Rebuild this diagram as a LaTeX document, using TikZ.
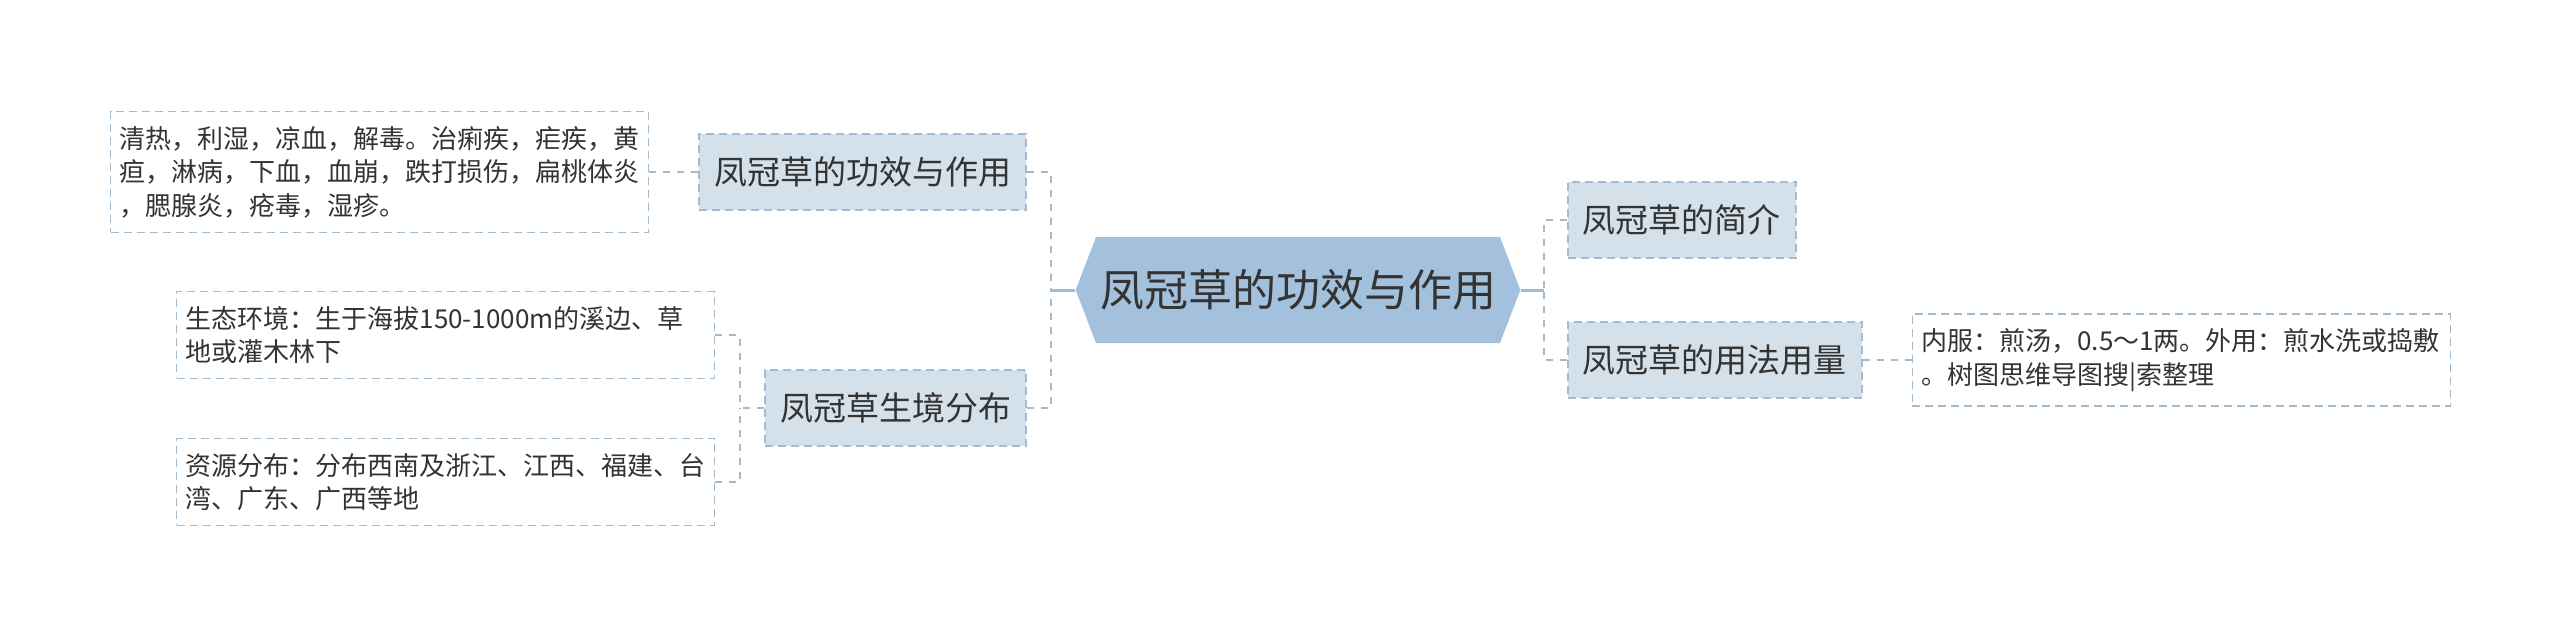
\documentclass[tikz,border=0pt]{standalone}
\usepackage{fontspec}
\newfontfamily\cjk{Noto Sans CJK SC}
\usetikzlibrary{positioning}
\usetikzlibrary{shapes.symbols}

\definecolor{rootblue}{HTML}{A3C1DC}
\definecolor{topicfill}{HTML}{D5E1EA}
\definecolor{edgeblue}{HTML}{A3BBD0}
\definecolor{txt}{HTML}{333333}

\begin{document}
\begin{tikzpicture}[
  root/.style={shape=signal, signal to=east and west, signal pointer angle=138, fill=rootblue, text=txt, minimum height=53pt, inner xsep=2pt, font=\cjk\fontsize{22pt}{26pt}\selectfont},
  topic/.style={draw=edgeblue, line width=0.9pt, dash pattern=on 4pt off 2.5pt, fill=topicfill, text=txt, minimum height=38pt, inner xsep=7.5pt, font=\cjk\fontsize{16.5pt}{20pt}\selectfont},
  leaf/.style={draw=edgeblue, line width=0.8pt, dash pattern=on 4pt off 2.5pt, fill=white, text=txt, text width=260pt, align=left, inner xsep=4.5pt, inner ysep=7.3pt, font=\cjk\fontsize{13pt}{16.7pt}\selectfont},
  link/.style={draw=edgeblue, line width=1.5pt},
  dlink/.style={draw=edgeblue, line width=1pt, dash pattern=on 3.5pt off 3.5pt}
]
\useasboundingbox (0,0) rectangle (1280pt,-319.5pt);
\node[root](c) at (649pt,-145pt){凤冠草的功效与作用};
\node[topic, right = 23pt of c.east, yshift=35pt](intro){凤冠草的简介};
\node[topic, right = 23pt of c.east, yshift=-35pt](usage){凤冠草的用法用量};
\node[leaf, right = 24.5pt of usage](useleaf){内服：煎汤，0.5～1两。外用：煎水洗或捣敷\\。树图思维导图搜|索整理};
\node[topic, left = 24pt of c.west, yshift=59pt](eff){凤冠草的功效与作用};
\node[leaf, left = 24.5pt of eff](effleaf){清热，利湿，凉血，解毒。治痢疾，疟疾，黄\\疸，淋病，下血，血崩，跌打损伤，扁桃体炎\\，腮腺炎，疮毒，湿疹。};
\node[topic, left = 24pt of c.west, yshift=-59pt](hab){凤冠草生境分布};
\node[leaf, left = 24.5pt of hab.west, yshift=36.5pt](hleafa){生态环境：生于海拔150-1000m的溪边、草\\地或灌木林下};
\node[leaf, left = 24.5pt of hab.west, yshift=-37pt](hleafb){资源分布：分布西南及浙江、江西、福建、台\\湾、广东、广西等地};
\draw[link] (c.east) -- ++(11.5pt,0) coordinate (rj);
\draw[dlink] (intro.west) -| (rj);
\draw[dlink] (usage.west) -| (rj);
\draw[dlink] (usage.east) -- (useleaf.west);
\draw[link] (c.west) -- ++(-12pt,0) coordinate (lj);
\draw[dlink] (eff.east) -| (lj);
\draw[dlink] (hab.east) -| (lj);
\draw[dlink] (eff.west) -- (effleaf.east);
\draw[dlink] (hab.west) -- ++(-12.25pt,0) coordinate (hj);
\draw[dlink] (hleafa.east) -| (hj);
\draw[dlink] (hleafb.east) -| (hj);
\end{tikzpicture}
\end{document}
